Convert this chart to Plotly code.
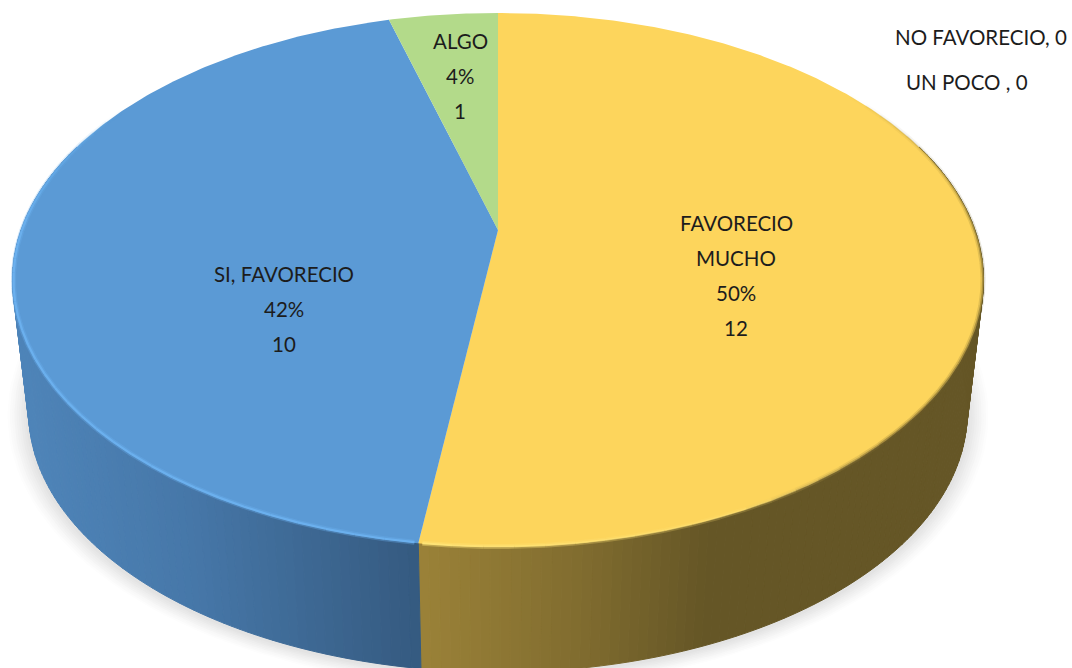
import math
import plotly.graph_objects as go

# ---- data ----
categories = ["FAVORECIO MUCHO", "SI, FAVORECIO", "ALGO", "UN POCO ", "NO FAVORECIO"]
values = [12, 10, 1, 0, 0]
percents = [50, 42, 4, 0, 0]

# ---- styles ----
TOP_COLORS = {"FAVORECIO MUCHO": "#FDD55C", "SI, FAVORECIO": "#5B9AD5", "ALGO": "#B3DA8A"}
WALL_STOPS = {
    "FAVORECIO MUCHO": [(420, (155, 130, 56)), (580, (128, 108, 47)), (700, (101, 86, 38)), (1000, (101, 86, 38))],
    "SI, FAVORECIO": [(0, (80, 135, 188)), (200, (70, 119, 168)), (330, (60, 102, 144)), (421, (53, 90, 128))],
}
TEXT = "#1c1c1c"
FONT = "Lato"
FS = 20.5

# ---- perspective projection of the pie disc into the plot's pixel-like axes ----
A = 0.187
CX = 498
TOP = dict(k=477.0, p=230.0, q=-214.6)
LOW = dict(k=461.0, p=363.5, q=-183.0)


def proj(deg, d, grow=0.0, dy=0.0, inset=0.0):
    t = math.radians(deg)
    X, Y = math.sin(t), math.cos(t)
    den = 1 + A * Y
    return CX + (d["k"] + grow - inset) * X / den, (d["p"] + (d["q"] - (grow - inset) * 0.55) * Y) / den + dy


def frange(a, b, step):
    n = max(1, int(abs(b - a) / step))
    return [a + (b - a) * i / n for i in range(n + 1)]


def lerp_rgb(stops, x):
    if x <= stops[0][0]:
        return tuple(stops[0][1])
    if x >= stops[-1][0]:
        return tuple(stops[-1][1])
    for (x0, c0), (x1, c1) in zip(stops, stops[1:]):
        if x0 <= x <= x1:
            f = (x - x0) / (x1 - x0)
            return tuple(c0[i] + (c1[i] - c0[i]) * f for i in range(len(c0)))


def css(c):
    if len(c) == 3:
        return "rgb(%d,%d,%d)" % tuple(round(v) for v in c)
    return "rgba(%d,%d,%d,%.3f)" % (round(c[0]), round(c[1]), round(c[2]), c[3])


def poly(xs, ys, fill, line=None, w=0.0):
    return go.Scatter(x=xs, y=ys, mode="lines", fill="toself", fillcolor=fill,
                      line=dict(color=line or fill, width=w), hoverinfo="skip", showlegend=False)


def path(xs, ys, color, w):
    return go.Scatter(x=xs, y=ys, mode="lines", line=dict(color=color, width=w),
                      hoverinfo="skip", showlegend=False)


total = sum(values)
spans = {}
cur = 0.0
for c, v in zip(categories, values):
    spans[c] = (cur, cur + 360.0 * v / total)
    cur += 360.0 * v / total

fig = go.Figure()

# soft shadow beneath the lower disc
N = 10
for i in range(N):
    f = i / (N - 1)
    g = 20 * (1 - f) + 3
    level = round(255 - 28 * f ** 1.2)
    pts = [proj(a, LOW, grow=g, dy=1.5) for a in frange(0, 360, 2)]
    fig.add_trace(poly([p[0] for p in pts], [p[1] for p in pts], f"rgb({level},{level},{level})"))

# side wall, strip by strip
for cat, vis in (("FAVORECIO MUCHO", (70, spans["FAVORECIO MUCHO"][1])),
                 ("SI, FAVORECIO", (290, spans["SI, FAVORECIO"][0]))):
    angles = frange(vis[0], vis[1], 1.0)
    for a0, a1 in zip(angles, angles[1:]):
        t0, t1, b1, b0 = proj(a0, TOP), proj(a1, TOP), proj(a1, LOW), proj(a0, LOW)
        col = css(lerp_rgb(WALL_STOPS[cat], (b0[0] + b1[0]) / 2))
        fig.add_trace(poly([t0[0], t1[0], b1[0], b0[0], t0[0]],
                           [t0[1], t1[1], b1[1], b0[1], t0[1]], col, col, 1))

# top face wedges
apex = (CX, TOP["p"])
for c in categories:
    a0, a1 = spans[c]
    if a1 - a0 <= 0:
        continue
    arc = [proj(a, TOP) for a in frange(a0, a1, 0.5)]
    xs = [apex[0]] + [p[0] for p in arc] + [apex[0]]
    ys = [apex[1]] + [p[1] for p in arc] + [apex[1]]
    fig.add_trace(poly(xs, ys, TOP_COLORS[c]))


# bevel along the front rim: colour and strength vary smoothly with the angle
def rim(a0, a1, stops, w, inset):
    angles = frange(a0, a1, 3.0)
    for s0, s1 in zip(angles, angles[1:]):
        pts = [proj(a, TOP, inset=inset) for a in frange(s0, s1, 1.0)]
        fig.add_trace(path([p[0] for p in pts], [p[1] for p in pts],
                           css(lerp_rgb(stops, (s0 + s1) / 2)), w))


BLUE_RIM = [(188, (107, 176, 238, 1.0)), (270, (107, 176, 238, 1.0)), (285, (100, 170, 232, 0.7)), (300, (100, 170, 232, 0.0))]
YEL_RIM = [(55, (110, 95, 40, 0.0)), (90, (110, 95, 40, 0.45)), (135, (120, 100, 45, 0.55)), (155, (255, 224, 112, 0.5)), (188, (255, 228, 120, 1.0))]
SI = spans["SI, FAVORECIO"]
FM = spans["FAVORECIO MUCHO"]
rim(SI[0] + 0.4, 300, [(a, (c[0], c[1], c[2], c[3] * 0.35)) for a, c in BLUE_RIM], 5, 1.0)
rim(SI[0] + 0.4, 300, BLUE_RIM, 2.2, 1.0)
rim(55, FM[1] - 0.4, [(a, (c[0], c[1], c[2], c[3] * 0.4)) for a, c in YEL_RIM], 5, 0.5)
rim(55, FM[1] - 0.4, YEL_RIM, 1.8, 0.5)

# labels
fig_annots = []


def text_lines(lines, x, ys):
    for ln, y in zip(lines, ys):
        fig_annots.append(dict(x=x, y=y, text=ln, showarrow=False, xanchor="center", yanchor="middle",
                               font=dict(family=FONT, size=FS, color=TEXT)))


def block(c):
    i = categories.index(c)
    return c, percents[i], values[i]


c, pc, v = block("FAVORECIO MUCHO")
w = c.split(" ")
text_lines([w[0], w[1], f"{pc}%", str(v)], 736, [223, 258, 293, 328])
c, pc, v = block("SI, FAVORECIO")
text_lines([c, f"{pc}%", str(v)], 284, [274, 309, 344])
c, pc, v = block("ALGO")
text_lines([c, f"{pc}%", str(v)], 460, [41, 76, 111])
c, pc, v = block("NO FAVORECIO")
text_lines([f"{c}, {v}"], 981, [37])
c, pc, v = block("UN POCO ")
text_lines([f"{c}, {v}"], 967, [82])

fig.update_layout(
    width=1072, height=668, margin=dict(l=0, r=0, t=0, b=0),
    paper_bgcolor="white", plot_bgcolor="white", showlegend=False,
    xaxis=dict(range=[0, 1072], visible=False, fixedrange=True),
    yaxis=dict(range=[668, 0], visible=False, fixedrange=True),
    annotations=fig_annots,
)
fig.write_html("out.html", config={"displayModeBar": False},
               post_script="document.body.style.margin='0';document.documentElement.style.overflow='hidden';")
